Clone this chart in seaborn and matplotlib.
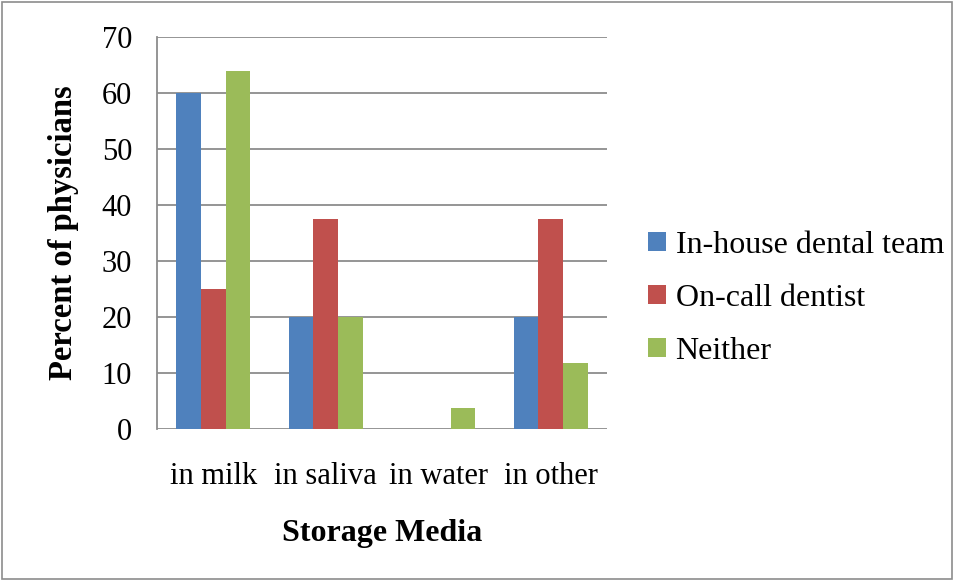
import matplotlib
matplotlib.use("Agg")
import matplotlib.pyplot as plt
import seaborn as sns
import pandas as pd
from matplotlib.patches import Rectangle

categories = ["in milk", "in saliva", "in water", "in other"]
series = ["In-house dental team", "On-call dentist", "Neither"]
in_house = [60, 20, 0, 20]
on_call = [25, 37.5, 0, 37.5]
neither = [64, 20, 3.7, 11.8]
colors = ["#4F81BD", "#C0504D", "#9BBB59"]

rows = []
for name, vals in zip(series, [in_house, on_call, neither]):
    for cat, v in zip(categories, vals):
        rows.append({"media": cat, "group": name, "pct": v})
df = pd.DataFrame(rows)

sns.set_style("white")
plt.rcParams["font.family"] = ["Liberation Serif", "DejaVu Serif"]
plt.rcParams["text.color"] = "black"
plt.rcParams["axes.labelcolor"] = "black"
plt.rcParams["xtick.labelcolor"] = "black"
plt.rcParams["ytick.labelcolor"] = "black"

fig = plt.figure(figsize=(9.55, 5.81), dpi=100)
ax = fig.add_axes([0.1644, 0.2616, 0.4712, 0.6747])

sns.barplot(data=df, x="media", y="pct", hue="group", palette=colors,
            width=0.66, gap=0, saturation=1, ax=ax, edgecolor="none",
            legend=True)

ax.set_ylim(0, 70)
ax.set_yticks(range(0, 71, 10))
ax.set_xlim(-0.5, 3.5)
ax.yaxis.grid(True, color="#8c8c8c", linewidth=1.3)
ax.set_axisbelow(True)
for s in ["top", "right", "bottom"]:
    ax.spines[s].set_visible(False)
ax.spines["left"].set_color("#8c8c8c")
ax.spines["left"].set_linewidth(1.3)

ax.tick_params(axis="y", length=8, width=1.3, color="#8c8c8c", pad=10, labelsize=22)
ax.tick_params(axis="x", length=0, pad=24, labelsize=22)

ax.set_xlabel("Storage Media", fontsize=23, fontweight="bold", labelpad=20)
ax.set_ylabel("Percent of physicians", fontsize=23.5, fontweight="bold", labelpad=16)

ax.legend(loc="center left", bbox_to_anchor=(0.679, 0.487), bbox_transform=fig.transFigure,
          frameon=False, fontsize=23, handlelength=0.55, handleheight=0.55,
          handletextpad=0.3, labelspacing=0.75, borderpad=0, borderaxespad=0)

fig.patches.append(Rectangle((0.002, 0.004), 0.995, 0.992, transform=fig.transFigure,
                             fill=False, edgecolor="#8c8c8c", linewidth=1.2))

fig.savefig("out.png", dpi=100)
